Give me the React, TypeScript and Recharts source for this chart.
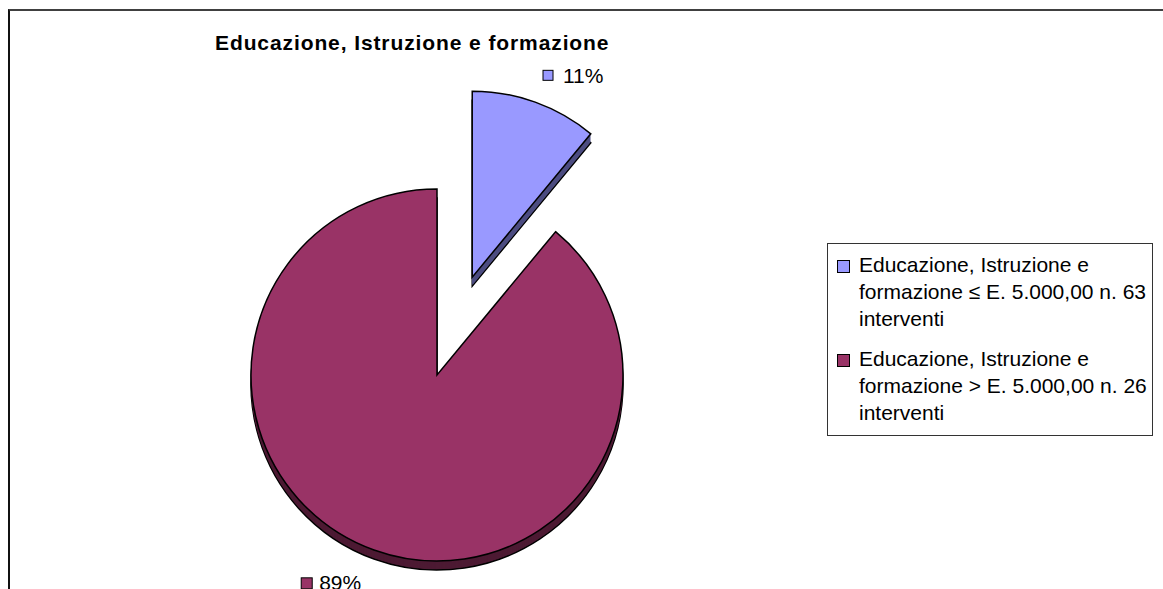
import { PieChart, Pie, Cell, Legend } from 'recharts'

const title = 'Educazione, Istruzione e formazione'
const categories = [
  'Educazione, Istruzione e formazione ≤ E. 5.000,00 n. 63 interventi',
  'Educazione, Istruzione e formazione > E. 5.000,00 n. 26 interventi',
]
const shares = [11, 89]
const colors = ['#9999FF', '#993366']
const sideColors = ['#4D4D80', '#4D1A33']

const FONT = '"Liberation Sans", Arial, sans-serif'
const CX = 437
const CY = 375
const R = 186
const EXPLODE = 104
const DEPTH = 9
const RAD = Math.PI / 180

const rows = categories.map((name, i) => ({ name, value: shares[i] }))
const total = shares.reduce((a, b) => a + b, 0)

// slice 0 is pulled out along its mid angle, slice 1 stays at the centre
const mid0 = 90 - (360 * shares[0]) / total / 2
const centres = [
  { cx: CX + EXPLODE * Math.cos(mid0 * RAD), cy: CY - EXPLODE * Math.sin(mid0 * RAD) },
  { cx: CX, cy: CY },
]

const pctLabel = (visible: number) => (p: any) => {
  if (p.index !== visible) return <g />
  const a = -p.midAngle * RAD
  const r = p.outerRadius + 20
  const x = p.cx + r * Math.cos(a)
  const y = p.cy + r * Math.sin(a)
  const text = `${shares[p.index]}%`
  const fs = 21
  if (Math.cos(a) >= 0) {
    const c = y - 8
    return (
      <g>
        <rect x={x + 1} y={c - 5} width={10} height={10} fill={colors[p.index]} stroke="#000" strokeWidth={1} />
        <text x={x + 21} y={c} dominantBaseline="central" fontSize={fs} fontFamily={FONT} fill="#000">
          {text}
        </text>
      </g>
    )
  }
  const c = y + 14
  const end = x - 6
  return (
    <g>
      <rect x={end - 42 - 18} y={c - 5} width={11} height={11} fill={colors[p.index]} stroke="#000" strokeWidth={1} />
      <text x={end} y={c} textAnchor="end" dominantBaseline="central" fontSize={fs} fontFamily={FONT} fill="#000">
        {text}
      </text>
    </g>
  )
}

function sliceLayers(idx: number) {
  const { cx, cy } = centres[idx]
  const out = []
  for (let d = DEPTH; d >= 1; d--) {
    out.push(
      <Pie
        key={`s${idx}-${d}`}
        data={rows}
        dataKey="value"
        cx={cx}
        cy={cy + d}
        outerRadius={R}
        startAngle={90}
        endAngle={-270}
        isAnimationActive={false}
        labelLine={false}
      >
        {rows.map((_, i) => (
          <Cell
            key={i}
            fill={i === idx ? sideColors[idx] : 'transparent'}
            stroke={i === idx && d === DEPTH ? '#000' : 'none'}
            strokeWidth={1.5}
          />
        ))}
      </Pie>
    )
  }
  out.push(
    <Pie
      key={`t${idx}`}
      data={rows}
      dataKey="value"
      cx={cx}
      cy={cy}
      outerRadius={R}
      startAngle={90}
      endAngle={-270}
      isAnimationActive={false}
      labelLine={false}
      label={pctLabel(idx)}
    >
      {rows.map((_, i) => (
        <Cell
          key={i}
          fill={i === idx ? colors[idx] : 'transparent'}
          stroke={i === idx ? '#000' : 'none'}
          strokeWidth={1.5}
        />
      ))}
    </Pie>
  )
  return out
}

const LegendBox = () => (
  <div
    style={{
      boxSizing: 'border-box',
      width: 326,
      height: 193,
      border: '1px solid #333',
      background: '#fff',
      padding: '7px 0 0 9px',
      fontFamily: FONT,
      fontSize: 21,
      lineHeight: '27px',
      color: '#000',
    }}
  >
    {categories.map((c, i) => (
      <div key={i} style={{ display: 'flex', alignItems: 'flex-start', marginBottom: 13 }}>
        <div
          style={{
            width: 11,
            height: 11,
            marginTop: 9,
            marginRight: 9,
            flex: 'none',
            background: colors[i],
            border: '1px solid #000',
          }}
        />
        <div style={{ width: 298 }}>{c}</div>
      </div>
    ))}
  </div>
)

export default function App() {
  return (
    <div style={{ position: 'absolute', left: 0, top: 0, width: 1163, height: 589, overflow: 'hidden', background: '#fff' }}>
      <div
        style={{
          position: 'absolute',
          left: 8,
          top: 9,
          width: 1300,
          height: 800,
          borderTop: '2px solid #404040',
          borderLeft: '2px solid #111',
        }}
      />
      <div
        style={{
          position: 'absolute',
          left: 215,
          top: 32,
          fontFamily: FONT,
          fontWeight: 'bold',
          fontSize: 21,
          lineHeight: '21px',
          letterSpacing: 0.9,
          whiteSpace: 'nowrap',
          color: '#000',
        }}
      >
        {title}
      </div>
      <div style={{ position: 'absolute', left: 0, top: 0 }}>
        <PieChart width={1163} height={589} margin={{ top: 0, right: 0, bottom: 0, left: 0 }}>
          {sliceLayers(1)}
          {sliceLayers(0)}
          <Legend
            content={() => <LegendBox />}
            wrapperStyle={{ left: 827, top: 243, width: 326, height: 193 }}
          />
        </PieChart>
      </div>
    </div>
  )
}
